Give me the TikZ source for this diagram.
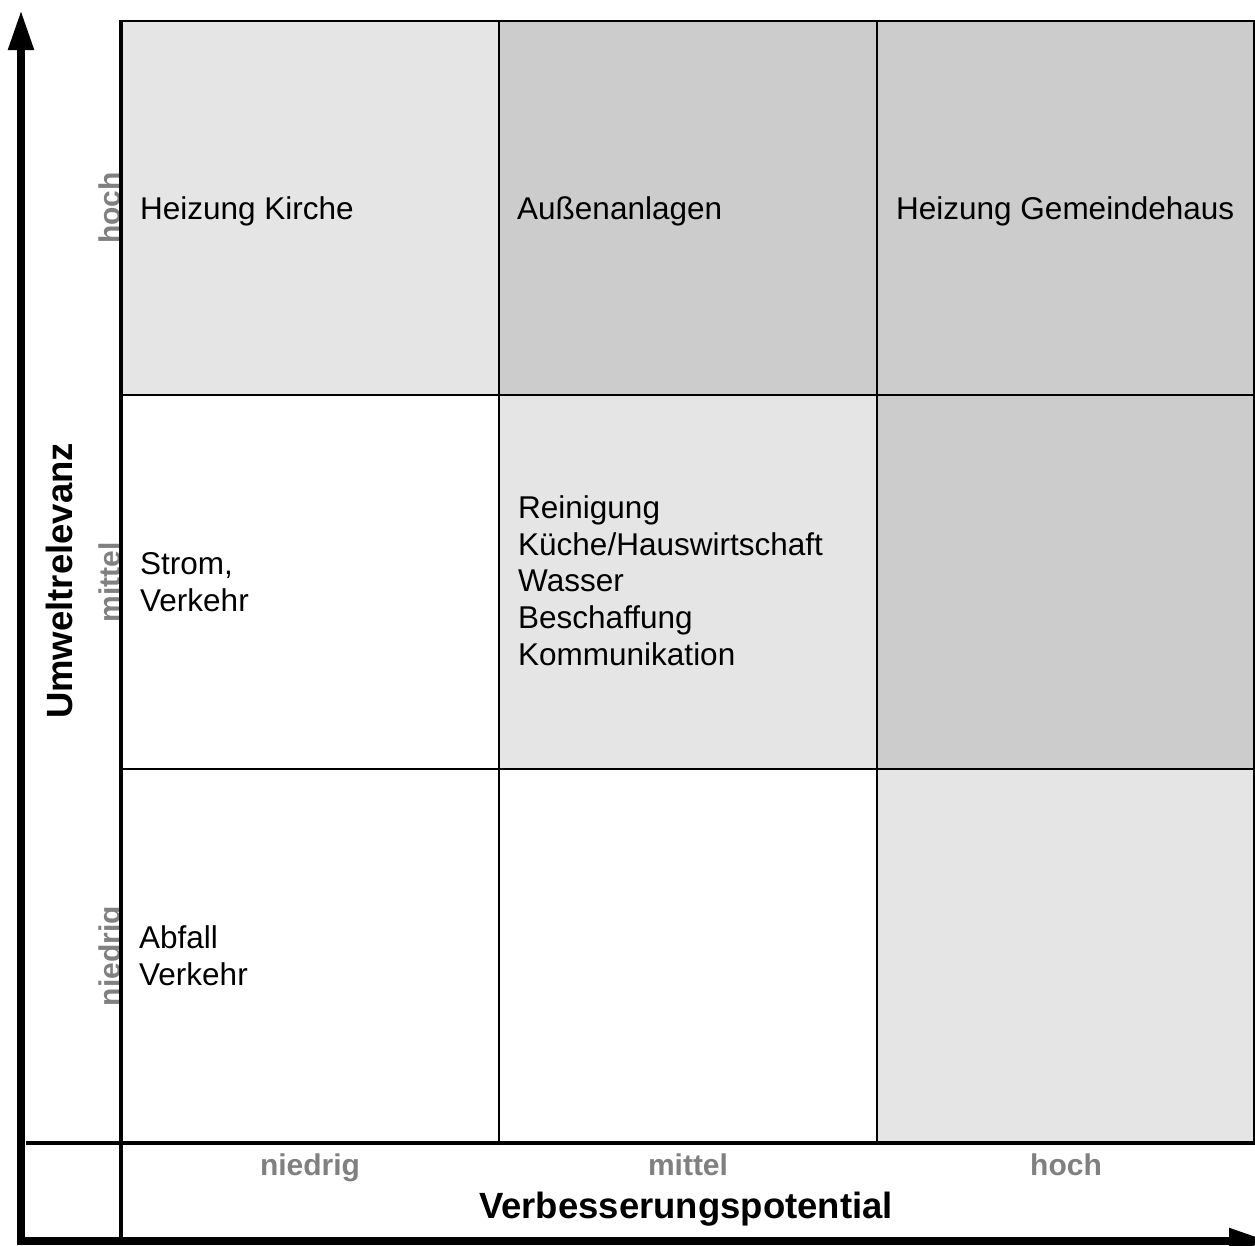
\documentclass[tikz,border=0pt]{standalone}
\usepackage{fontspec}
\setmainfont{Liberation Sans}
\usetikzlibrary{arrows.meta}
\definecolor{cellA}{HTML}{E5E5E5}
\definecolor{cellB}{HTML}{CCCCCC}
\definecolor{lvlgray}{HTML}{808080}
\begin{document}
\begin{tikzpicture}[x=1pt,y=-1pt,
  cell/.style={draw=black, line width=2pt},
  celltext/.style={anchor=base west, inner sep=0pt, align=left, font=\fontsize{31.5}{36.6}\selectfont},
  lvl/.style={text=lvlgray, font=\fontsize{30}{36}\selectfont\bfseries, inner sep=0pt, anchor=base},
  axistitle/.style={font=\fontsize{36.5}{40}\selectfont\bfseries, inner sep=0pt, anchor=base},
  axisline/.style={line width=8pt, -{Triangle[length=40pt,width=24pt]}},
  thickline/.style={line width=4pt},
  ]
\useasboundingbox (0,0) rectangle (1255,1245);
\clip (0,0) rectangle (1255,1245);

% level labels on the vertical axis (partly covered by the cells)
\node[lvl, rotate=90] (yhoch) at (120,208) {hoch};
\node[lvl, rotate=90] (ymittel) at (120,582) {mittel};
\node[lvl, rotate=90] (yniedrig) at (120,956) {niedrig};

% cells
\path[cell, fill=cellA] (121,21) rectangle (499,395);
\path[cell, fill=cellB] (499,21) rectangle (877,395);
\path[cell, fill=cellB] (877,21) rectangle (1254,395);
\path[cell, fill=white] (121,395) rectangle (499,769);
\path[cell, fill=cellA] (499,395) rectangle (877,769);
\path[cell, fill=cellB] (877,395) rectangle (1254,769);
\path[cell, fill=white] (121,769) rectangle (499,1143);
\path[cell, fill=white] (499,769) rectangle (877,1143);
\path[cell, fill=cellA] (877,769) rectangle (1254,1143);

% thick frame lines
\coordinate (ltop) at (121,20);
\coordinate (lbot) at (121,1240);
\draw[thickline] (ltop) -- (lbot);
\coordinate (hleft) at (26,1143);
\coordinate (hright) at (1255,1143);
\draw[thickline] (hleft) -- (hright);

% axes
\coordinate (ybase) at (21,1245);
\coordinate (ytip) at (21,10);
\draw[axisline] (ybase) -- (ytip);
\coordinate (xbase) at (17,1241);
\coordinate (xtip) at (1269,1241);
\draw[axisline] (xbase) -- (xtip);

% level labels on the horizontal axis
\node[lvl] (xniedrig) at (310,1175) {niedrig};
\node[lvl] (xmittel) at (688,1175) {mittel};
\node[lvl] (xhoch) at (1066,1175) {hoch};

% axis titles
\node[axistitle] (xtitle) at (686,1218) {Verbesserungspotential};
\node[axistitle, rotate=90] (ytitle) at (72,581) {Umweltrelevanz};

% cell texts (base anchor = baseline of the last line)
\node[celltext] (t11) at (140,219) {Heizung Kirche};
\node[celltext] (t12) at (517,219) {Außenanlagen};
\node[celltext] (t13) at (896,219) {Heizung Gemeindehaus};
\node[celltext] (t21) at (140,611) {Strom,\\Verkehr};
\node[celltext] (t22) at (518,665) {Reinigung\\Küche/Hauswirtschaft\\Wasser\\Beschaffung\\Kommunikation};
\node[celltext] (t31) at (139,985) {Abfall\\Verkehr};
\end{tikzpicture}
\end{document}
